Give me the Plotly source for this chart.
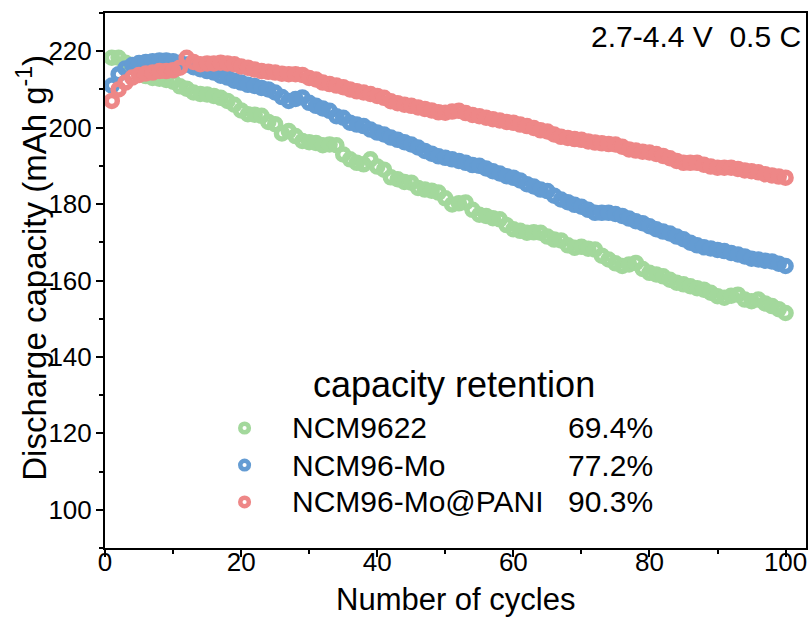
import plotly.graph_objects as go

cycles = list(range(1, 101))

ncm9622 = [218.3, 218.3, 217.0, 216.0, 214.5, 213.5, 213.0, 212.8, 212.5, 212.0,
           210.8, 210.2, 209.2, 208.8, 208.7, 208.3, 207.8, 207.0, 206.0, 204.5,
           203.5, 203.4, 203.1, 201.5, 200.9, 198.5, 199.1, 197.8, 196.5, 196.2,
           196.0, 195.4, 195.6, 195.4, 193.0, 191.7, 190.8, 190.4, 191.7, 189.8,
           189.0, 187.0, 186.5, 185.8, 185.6, 184.2, 183.8, 183.5, 183.0, 181.5,
           179.9, 180.2, 180.4, 178.5, 177.2, 176.9, 176.3, 176.0, 174.5, 173.4,
           173.0, 172.5, 172.6, 172.5, 171.5, 170.7, 170.5, 169.2, 168.6, 168.8,
           168.3, 168.1, 166.5, 165.5, 164.5, 163.8, 164.2, 164.6, 163.0, 162.0,
           161.6, 161.1, 160.2, 159.4, 159.0, 158.5, 158.0, 157.6, 156.8, 155.9,
           155.5, 156.0, 156.3, 155.0, 154.6, 155.0, 154.0, 153.3, 152.5, 151.5]

ncm96_mo = [211.0, 214.0, 215.5, 216.4, 216.9, 217.2, 217.4, 217.6, 217.6, 217.4,
            217.0, 216.5, 215.8, 215.3, 214.8, 214.4, 213.6, 213.1, 212.3, 211.8,
            211.2, 210.9, 210.4, 210.0, 209.2, 208.0, 207.0, 207.5, 207.9, 206.5,
            205.7, 205.0, 204.4, 203.0, 202.6, 201.3, 200.8, 200.4, 199.5, 198.7,
            198.2, 197.4, 196.8, 196.2, 195.6, 194.8, 193.9, 193.2, 192.5, 192.1,
            191.7, 191.3, 190.8, 190.2, 190.0, 189.3, 188.6, 188.0, 187.3, 186.9,
            186.2, 185.2, 184.6, 183.8, 183.4, 182.2, 181.2, 180.5, 179.8, 179.3,
            178.5, 177.7, 177.7, 177.7, 177.4, 176.9, 176.2, 175.5, 175.0, 174.2,
            173.4, 172.8, 172.3, 171.5, 170.8, 169.9, 169.2, 168.7, 168.4, 168.0,
            167.7, 167.2, 166.8, 166.3, 165.7, 165.5, 165.2, 165.0, 164.4, 163.8]

ncm96_mo_pani = [207.0, 210.0, 211.8, 213.1, 213.8, 214.2, 214.4, 214.8, 214.8, 215.0,
                 215.7, 218.3, 217.2, 216.6, 216.8, 216.8, 217.0, 216.8, 216.6, 216.0,
                 215.7, 215.2, 214.8, 214.6, 214.4, 214.1, 214.0, 214.0, 213.8, 213.0,
                 212.6, 211.8, 211.4, 211.0, 210.6, 210.0, 209.5, 209.2, 208.8, 208.3,
                 207.8, 206.9, 206.4, 206.0, 205.7, 205.3, 204.9, 204.5, 204.0, 203.9,
                 204.2, 204.4, 203.8, 203.3, 203.0, 202.6, 202.2, 201.9, 201.5, 201.3,
                 200.8, 200.4, 199.9, 199.3, 199.0, 198.2, 197.6, 197.3, 197.0, 196.8,
                 196.4, 196.1, 195.9, 195.7, 195.6, 195.0, 194.3, 194.0, 193.7, 193.5,
                 193.1, 192.6, 192.0, 191.3, 190.8, 190.8, 190.8, 190.3, 189.8, 189.5,
                 189.5, 189.5, 189.2, 188.8, 188.6, 188.3, 187.8, 187.5, 187.2, 186.9]

series_names = ["NCM9622", "NCM96-Mo", "NCM96-Mo@PANI"]
retention = ["69.4%", "77.2%", "90.3%"]
colors = ["#a3d89c", "#649cd3", "#ee8787"]
series = [ncm9622, ncm96_mo, ncm96_mo_pani]

x_ticks = [0, 20, 40, 60, 80, 100]
y_ticks = [100, 120, 140, 160, 180, 200, 220]

FONT = "Liberation Sans, Arial, sans-serif"

fig = go.Figure()
for name, ys, col in zip(series_names, series, colors):
    fig.add_trace(go.Scatter(
        x=cycles, y=ys, mode="markers", name=name, showlegend=False,
        marker=dict(symbol="circle-open", size=11, color=col, line=dict(width=5.5)),
    ))

axis_common = dict(
    showgrid=False, zeroline=False, showline=True, linecolor="black", linewidth=2,
    mirror=True, ticks="outside", ticklen=7, tickwidth=2, tickcolor="black",
    tickfont=dict(family=FONT, size=26, color="black"),
)

fig.update_xaxes(range=[0, 103], tickvals=x_ticks, ticklabelstandoff=-17,
                 minor=dict(ticks="outside", ticklen=4, tickwidth=2, dtick=10, tick0=0, tickcolor="black"),
                 **axis_common)
fig.update_yaxes(range=[90, 230], tickvals=y_ticks, ticklabelstandoff=-1,
                 minor=dict(ticks="outside", ticklen=4, tickwidth=2, dtick=10, tick0=0, tickcolor="black"),
                 **axis_common)

annotations = [
    dict(text="Discharge capacity (mAh g<sup>-1</sup>)", xref="paper", yref="paper",
         x=-0.104, y=0.524, textangle=-90, showarrow=False, xanchor="center", yanchor="middle",
         font=dict(family=FONT, size=33, color="black")),
    dict(text="Number of cycles", xref="paper", yref="paper", x=0.50, y=-0.097,
         xanchor="center", yanchor="middle", showarrow=False,
         font=dict(family=FONT, size=31, color="black")),
    dict(text="2.7-4.4 V\u00a0\u00a00.5 C", xref="paper", yref="paper", x=0.996, y=0.957,
         xanchor="right", yanchor="middle", showarrow=False,
         font=dict(family=FONT, size=30, color="black")),
    dict(text="capacity retention", xref="paper", yref="paper", x=0.498, y=0.305,
         xanchor="center", yanchor="middle", showarrow=False,
         font=dict(family=FONT, size=36, color="black")),
]
row_y = [0.2243, 0.1551, 0.0860]
shapes = []
for name, ret, col, ry in zip(series_names, retention, colors, row_y):
    annotations.append(dict(text=name, xref="paper", yref="paper", x=0.2632, y=ry,
                            xanchor="left", yanchor="middle", showarrow=False,
                            font=dict(family=FONT, size=30, color="black")))
    annotations.append(dict(text=ret, xref="paper", yref="paper", x=0.7852, y=ry,
                            xanchor="right", yanchor="middle", showarrow=False,
                            font=dict(family=FONT, size=30, color="black")))
    shapes.append(dict(type="circle", xref="paper", yref="paper",
                       xsizemode="pixel", ysizemode="pixel", xanchor=0.1991, yanchor=ry,
                       x0=-4.3, x1=4.3, y0=-4.3, y1=4.3,
                       line=dict(color=col, width=4.5), fillcolor="rgba(0,0,0,0)"))

fig.update_layout(
    width=812, height=619,
    margin=dict(l=105, r=4, t=13, b=71),
    paper_bgcolor="white", plot_bgcolor="white",
    annotations=annotations, shapes=shapes,
    font=dict(family=FONT, color="black"),
)

fig.write_html("out.html")
